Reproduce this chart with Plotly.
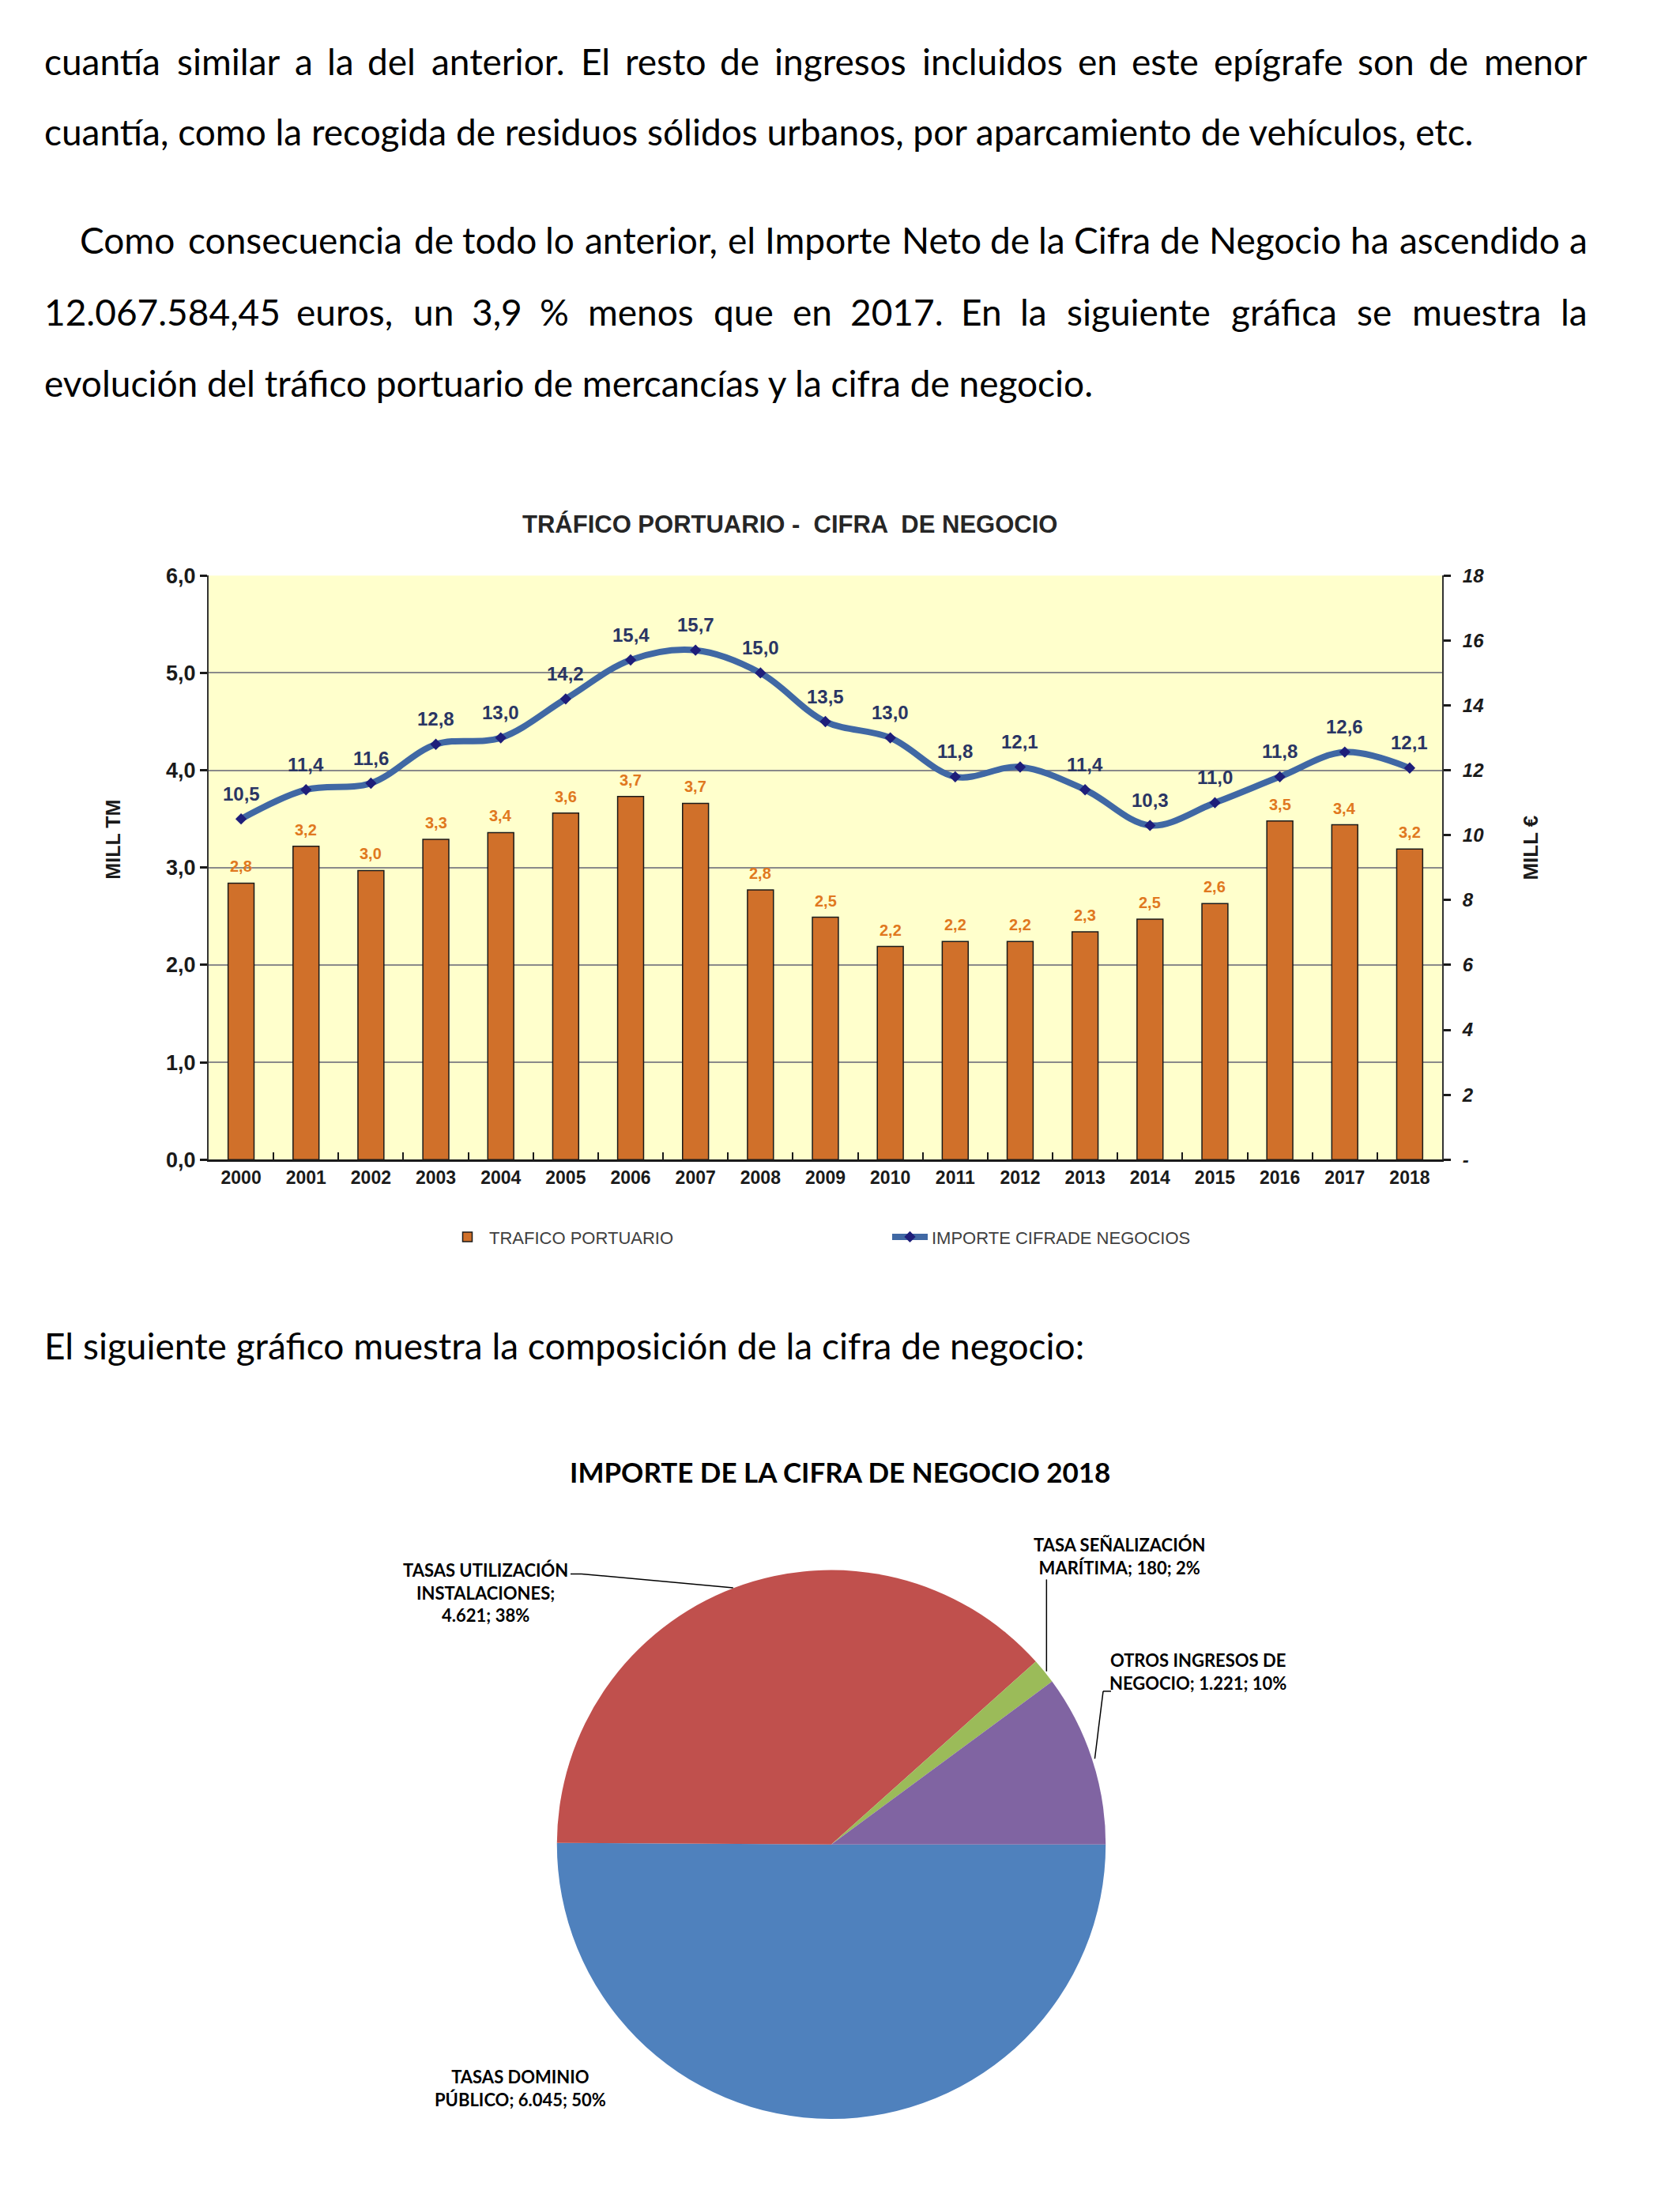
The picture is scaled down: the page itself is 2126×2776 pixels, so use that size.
import plotly.graph_objects as go
import math

W, H = 2126, 2776

# ---------------- data ----------------
years = [str(y) for y in range(2000, 2019)]
trafico = [2.84, 3.22, 2.97, 3.29, 3.36, 3.56, 3.73, 3.66, 2.77, 2.49,
           2.19, 2.24, 2.24, 2.34, 2.47, 2.63, 3.48, 3.44, 3.19]
cifra = [10.5, 11.4, 11.6, 12.8, 13.0, 14.2, 15.4, 15.7, 15.0, 13.5,
         13.0, 11.8, 12.1, 11.4, 10.3, 11.0, 11.8, 12.56, 12.07]
left_ticks = [0, 1, 2, 3, 4, 5, 6]
right_ticks = [0, 2, 4, 6, 8, 10, 12, 14, 16, 18]

pie_names = ["TASAS DOMINIO<br>PÚBLICO", "TASAS UTILIZACIÓN<br>INSTALACIONES",
             "TASA SEÑALIZACIÓN<br>MARÍTIMA", "OTROS INGRESOS DE<br>NEGOCIO"]
pie_values = [6045, 4621, 180, 1221]
pie_pct = ["50%", "38%", "2%", "10%"]
pie_sep = ["; ", ";<br>", "; ", "; "]
pie_colors = ["#4F81BD", "#C0504D", "#9BBB59", "#8064A2"]

para = [
    ("cuantía similar a la del anterior. El resto de ingresos incluidos en este epígrafe son de menor", True, 47, 55),
    ("cuantía, como la recogida de residuos sólidos urbanos, por aparcamiento de vehículos, etc.", False, 47, 145),
    ("Como consecuencia de todo lo anterior, el Importe Neto de la Cifra de Negocio ha ascendido a", True, 92, 284),
    ("12.067.584,45 euros, un 3,9 % menos que en 2017. En la siguiente gráfica se muestra la", True, 47, 376),
    ("evolución del tráfico portuario de mercancías y la cifra de negocio.", False, 47, 467),
    ("El siguiente gráfico muestra la composición de la cifra de negocio:", False, 47, 1698),
]
RIGHT_MARGIN = 2002

# ---------------- helpers ----------------
def px(x):
    return x / W

def py(y):
    return 1 - y / H

LATO = dict(a=.50, b=.555, c=.49, d=.555, e=.53, f=.318, g=.50, h=.555, i=.235,
            j=.235, k=.507, l=.235, m=.835, n=.555, o=.555, p=.55, q=.555, r=.365,
            s=.42, t=.344, u=.555, v=.505, w=.765, x=.49, y=.505, z=.453)
LATO.update({"á": .50, "í": .235, "ó": .555, "é": .53, "ú": .555, "ñ": .555,
             ".": .23, ",": .23, ":": .23, ";": .23, "%": .77, " ": .193,
             "C": .68, "E": .56, "I": .28, "N": .74})
for d in "0123456789":
    LATO[d] = .555

def w_em(s):
    return sum(LATO.get(ch, .66) for ch in s)

BODY_FONT = "Lato"
FS = (1880 - 57) / w_em(para[1][0]) / 1.03
WFAC = 1.03

def txt(text, x, y, anchor, size=FS):
    return dict(text=text, x=px(x), y=py(y), xref="paper", yref="paper",
                xanchor=anchor, yanchor="middle", showarrow=False, borderpad=0,
                font=dict(family=BODY_FONT, size=size, color="#000000"))

annotations = []
for text, justify, x0, yc in para:
    if not justify:
        annotations.append(txt(text, x0, yc, "left"))
    else:
        words = text.split(" ")
        widths = [w_em(wd) * FS * WFAC for wd in words]
        gap = (RIGHT_MARGIN - x0 - sum(widths)) / (len(words) - 1)
        cur = x0
        n = len(words)
        for k, (wd, ww) in enumerate(zip(words, widths)):
            if k == 0:
                annotations.append(txt(wd, x0, yc, "left"))
            elif k == n - 1:
                annotations.append(txt(wd, RIGHT_MARGIN, yc, "right"))
            else:
                annotations.append(txt(wd, cur + ww / 2, yc, "center"))
            cur += ww + gap

# ---------------- bar / line chart ----------------
CH_FONT = "Liberation Sans, Arial, sans-serif"
X0, X1, Y0, Y1 = 256, 1817, 713, 1460

fig = go.Figure()
fig.add_trace(go.Bar(
    x=years, y=trafico, name="TRAFICO PORTUARIO",
    marker=dict(color="#D0702A", line=dict(color="#1a1a1a", width=1.5)),
    width=0.4, hoverinfo="skip", xaxis="x", yaxis="y"))
fig.add_trace(go.Scatter(
    x=years, y=cifra, name="IMPORTE CIFRADE NEGOCIOS", mode="lines+markers",
    line=dict(color="#4068A4", width=8, shape="spline", smoothing=1.0),
    marker=dict(symbol="diamond", size=11, color="#1E1E7A", line=dict(width=0)),
    hoverinfo="skip", xaxis="x", yaxis="y2"))

for i, v in enumerate(trafico):
    annotations.append(dict(text=f"{v:.1f}".replace(".", ","), x=i, y=v, xref="x", yref="y",
                            yshift=21, showarrow=False, xanchor="center", yanchor="middle",
                            font=dict(family=CH_FONT, size=20, color="#E07820", weight="bold")))
for i, v in enumerate(cifra):
    annotations.append(dict(text=f"{v:.1f}".replace(".", ","), x=i, y=v, xref="x", yref="y2",
                            yshift=32, showarrow=False, xanchor="center", yanchor="middle",
                            font=dict(family=CH_FONT, size=24, color="#2A3564", weight="bold")))

annotations.append(dict(text="TRÁFICO PORTUARIO -  CIFRA  DE NEGOCIO", x=px(991), y=py(647),
                        xref="paper", yref="paper", showarrow=False,
                        xanchor="center", yanchor="middle",
                        font=dict(family=CH_FONT, size=31, color="#262626", weight="bold")))
annotations.append(dict(text="MILL TM", x=px(135), y=py(1051), xref="paper", yref="paper",
                        showarrow=False, textangle=-90, xanchor="center", yanchor="middle",
                        font=dict(family=CH_FONT, size=25, color="#1a1a1a", weight="bold")))
annotations.append(dict(text="MILL €", x=px(1929), y=py(1061), xref="paper", yref="paper",
                        showarrow=False, textangle=-90, xanchor="center", yanchor="middle",
                        font=dict(family=CH_FONT, size=26, color="#1a1a1a", weight="bold")))

# ---------------- pie ----------------
PCX, PCY, PR = 1044, 2336, 351
fig.add_trace(go.Pie(
    labels=pie_names, values=pie_values, sort=False, direction="clockwise", rotation=90,
    marker=dict(colors=pie_colors, line=dict(width=0)), textinfo="none", hoverinfo="skip",
    showlegend=False,
    domain=dict(x=[px(PCX - PR), px(PCX + PR)], y=[py(PCY + PR), py(PCY - PR)])))

annotations.append(dict(text="IMPORTE DE LA CIFRA DE NEGOCIO 2018", x=px(1055), y=py(1859),
                        xref="paper", yref="paper", showarrow=False,
                        xanchor="center", yanchor="middle",
                        font=dict(family=BODY_FONT, size=35, color="#000000", weight="bold")))

label_pos = [(650, 2648), (606, 2014), (1408, 1967), (1508, 2115)]
total = sum(pie_values)
for name, v, pct, sep, (lx, ly) in zip(pie_names, pie_values, pie_pct, pie_sep, label_pos):
    vtxt = f"{v:,}".replace(",", ".")
    annotations.append(dict(text=f"{name}{sep}{vtxt}; {pct}", x=px(lx), y=py(ly),
                            xref="paper", yref="paper", showarrow=False, align="center",
                            xanchor="center", yanchor="middle",
                            font=dict(family=BODY_FONT, size=22, color="#000000", weight="bold")))

# leader lines: pie end point at slice mid-angle
mid = []
acc = 90.0
for v in pie_values:
    span = 360.0 * v / total
    mid.append(acc + span / 2)
    acc += span

def edge(i, rr=PR):
    a = math.radians(mid[i])
    return PCX + rr * math.sin(a), PCY - rr * math.cos(a)

shapes = []
def seg(xa, ya, xb, yb):
    shapes.append(dict(type="line", xref="paper", yref="paper", x0=px(xa), y0=py(ya),
                       x1=px(xb), y1=py(yb), line=dict(color="#000000", width=1.5)))

ex, ey = edge(1)
seg(714, 1990, 728, 1990); seg(728, 1990, ex, ey)
ex, ey = edge(2)
seg(ex, 1997, ex, ey)
ex, ey = edge(3)
seg(1398, 2140, 1388, 2140); seg(1388, 2140, ex, ey)

# ---------------- layout ----------------
fig.update_layout(
    width=W, height=H, autosize=False, margin=dict(l=0, r=0, t=0, b=0),
    paper_bgcolor="white", plot_bgcolor="#FFFFCC", separators=",.",
    annotations=annotations, shapes=shapes,
    xaxis=dict(domain=[px(X0), px(X1)], type="category", range=[-0.5, len(years) - 0.5],
               tickson="boundaries",
               ticks="inside", ticklen=9, tickwidth=2, tickcolor="#1a1a1a",
               showline=True, linecolor="#1a1a1a", linewidth=3, showgrid=False,
               anchor="y", tickangle=0,
               tickfont=dict(family=CH_FONT, size=23, color="#1a1a1a", weight="bold")),
    yaxis=dict(domain=[py(Y1), py(Y0)], range=[0, 6], tickvals=left_ticks, tickformat=".1f",
               ticks="outside", ticklen=9, tickwidth=3, tickcolor="#1a1a1a",
               showline=True, linecolor="#333333", linewidth=2,
               showgrid=True, gridcolor="#8a8a8a", gridwidth=2, zeroline=False,
               tickfont=dict(family=CH_FONT, size=27, color="#1a1a1a", weight="bold")),
    yaxis2=dict(overlaying="y", side="right", range=[0, 18], tickvals=right_ticks,
                ticktext=["-" if t == 0 else str(t) for t in right_ticks],
                ticks="outside", ticklen=9, tickwidth=3, tickcolor="#1a1a1a",
                showline=True, linecolor="#333333", linewidth=2, showgrid=False, zeroline=False,
                anchor="x", ticklabelstandoff=10,
                tickfont=dict(family=CH_FONT, size=24, color="#1a1a1a", weight="bold", style="italic")),
    showlegend=True,
    legend=dict(orientation="h", x=px(556), y=py(1559), xanchor="left", yanchor="middle",
                entrywidth=500, entrywidthmode="pixels", itemwidth=45,
                bgcolor="rgba(0,0,0,0)",
                font=dict(family=CH_FONT, size=22, color="#404040")),
)

fig.write_html("out.html")
